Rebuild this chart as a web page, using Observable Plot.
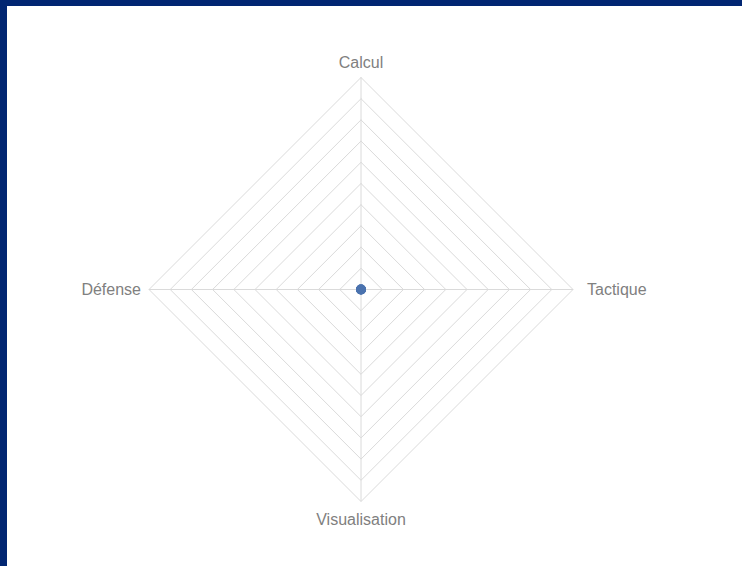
<!DOCTYPE html>
<html>
<head>
<meta charset="utf-8">
<script src="https://cdn.jsdelivr.net/npm/d3@7"></script>
<script src="https://cdn.jsdelivr.net/npm/@observablehq/plot@0.6"></script>
<style>
  html, body { margin: 0; padding: 0; background: #012672; width: 742px; height: 566px; overflow: hidden; }
  #chart { position: absolute; left: 7px; top: 6px; width: 735px; height: 560px; background: #ffffff; }
  #chart svg { display: block; }
</style>
</head>
<body>
<div id="chart"></div>
<script>
// Data
const axes = ["Calcul", "Tactique", "Visualisation", "Défense"];
const values = [0, 0, 0, 0];
const levels = [1, 2, 3, 4, 5, 6, 7, 8, 9, 10];
const maxLevel = 10;

// Geometry helpers (axis i points at angle i*90°, clockwise from top)
const angle = i => (i / axes.length) * 2 * Math.PI;
const px = (i, r) => r * Math.sin(angle(i));
const py = (i, r) => r * Math.cos(angle(i));

const rings = levels.flatMap(l =>
  [...axes.map((a, i) => ({level: l, x: px(i, l), y: py(i, l)})), {level: l, x: px(0, l), y: py(0, l)}]
);
const spokes = axes.map((a, i) => ({axis: a, x2: px(i, maxLevel), y2: py(i, maxLevel)}));
const points = axes.map((a, i) => ({axis: a, x: px(i, values[i]), y: py(i, values[i])}));
const labels = axes.map((a, i) => ({axis: a, x: px(i, maxLevel), y: py(i, maxLevel), i}));

const W = 735, H = 560, cx = 353.5, cy = 283, R = 212;

const chart = Plot.plot({
  width: W,
  height: H,
  margin: 0,
  style: {background: "#ffffff", fontFamily: "Liberation Sans, Arial, sans-serif"},
  x: {domain: [-cx / R * maxLevel, (W - cx) / R * maxLevel], axis: null},
  y: {domain: [-(H - cy) / R * maxLevel, cy / R * maxLevel], axis: null},
  marks: [
    Plot.line(rings, {x: "x", y: "y", z: "level", stroke: "#dadada", strokeWidth: 1}),
    Plot.link(spokes, {x1: 0, y1: 0, x2: "x2", y2: "y2", stroke: "#dadada", strokeWidth: 1}),
    Plot.text(labels.filter(d => d.i === 0), {x: "x", y: "y", text: "axis", dy: -15, fontSize: 16, fill: "#808080", textAnchor: "middle"}),
    Plot.text(labels.filter(d => d.i === 1), {x: "x", y: "y", text: "axis", dx: 14, fontSize: 16, fill: "#808080", textAnchor: "start"}),
    Plot.text(labels.filter(d => d.i === 2), {x: "x", y: "y", text: "axis", dy: 18, fontSize: 16, fill: "#808080", textAnchor: "middle"}),
    Plot.text(labels.filter(d => d.i === 3), {x: "x", y: "y", text: "axis", dx: -8, fontSize: 16, fill: "#808080", textAnchor: "end"}),
    Plot.line([...points, points[0]], {x: "x", y: "y", stroke: "#4a72ae", strokeWidth: 2}),
    Plot.dot(points, {x: "x", y: "y", r: 5, fill: "#4a72ae", stroke: "none"})
  ]
});
document.getElementById("chart").appendChild(chart);
</script>
</body>
</html>
